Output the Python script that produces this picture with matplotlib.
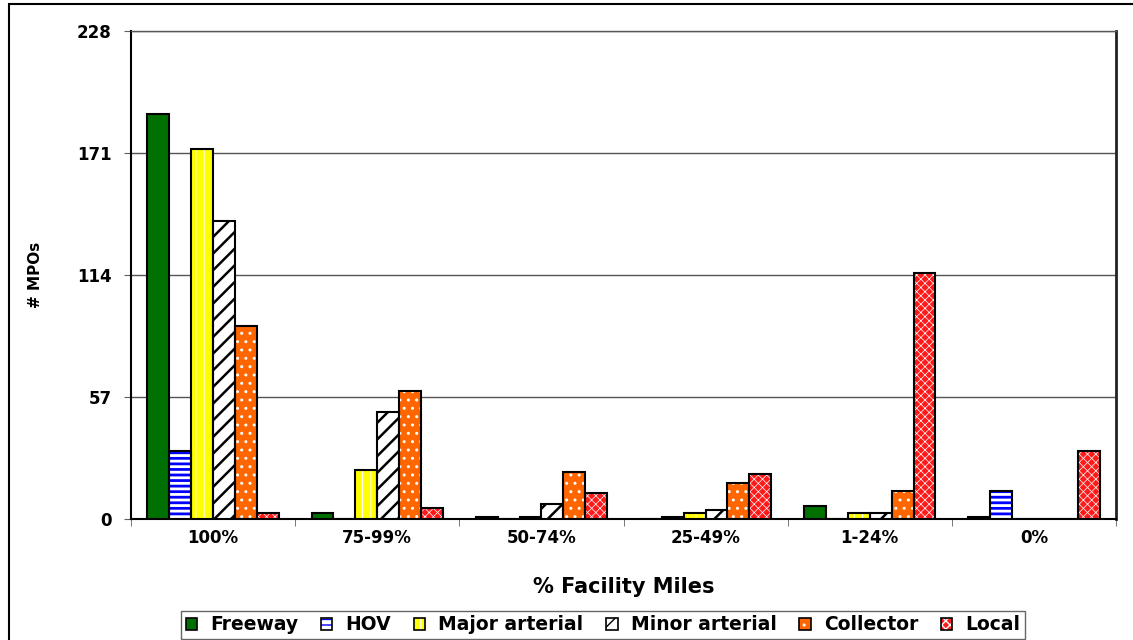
import matplotlib
matplotlib.use("Agg")
import matplotlib.pyplot as plt
import matplotlib.patches as mpatches
import numpy as np

# Share of facility miles covered, by facility type
categories = ['100%', '75-99%', '50-74%', '25-49%', '1-24%', '0%']
freeway = [189, 3, 1, 0, 6, 1]
hov = [32, 0, 0, 1, 0, 13]
major_arterial = [173, 23, 1, 3, 3, 0]
minor_arterial = [139, 50, 7, 4, 3, 0]
collector = [90, 60, 22, 17, 13, 0]
local = [3, 5, 12, 21, 115, 32]
series_names = ['Freeway', 'HOV', 'Major arterial', 'Minor arterial', 'Collector', 'Local']
yticks = [0, 57, 114, 171, 228]

# (face, hatch colour, hatch, hatch linewidth)
styles = [
    ('#007000', '#007000', '', 1.0),
    ('white', '#0000FF', '---', 2.0),
    ('#FFFF00', 'white', '||', 0.7),
    ('white', 'black', '//', 1.8),
    ('#FF6600', 'white', '..', 1.0),
    ('#FF1A1A', 'white', 'xxxx', 0.5),
]

plt.rcParams['font.family'] = 'DejaVu Sans'
plt.rcParams['font.weight'] = 'bold'

fig = plt.figure(figsize=(11.33, 6.4), dpi=100)
ax = fig.add_axes([131 / 1133, 1 - 519 / 640, 985 / 1133, 488 / 640])

x = np.arange(len(categories))
w = 1 / 7.5
data = [freeway, hov, major_arterial, minor_arterial, collector, local]

handles = []
for i, (vals, (fc, hc, hatch, hlw)) in enumerate(zip(data, styles)):
    pos = x + (i - 2.5) * w
    with plt.rc_context({'hatch.linewidth': hlw}):
        fill = ax.bar(pos, vals, w, color=fc, edgecolor=hc, hatch=hatch,
                      linewidth=0, zorder=3)
        for p in fill:
            if hasattr(p, 'set_hatch_linewidth'):
                p.set_hatch_linewidth(hlw)
        ax.bar(pos, vals, w, fill=False, edgecolor='black', linewidth=1.5,
               zorder=4)
        h1 = mpatches.Patch(facecolor=fc, edgecolor=hc, hatch=hatch, linewidth=0)
        if hasattr(h1, 'set_hatch_linewidth'):
            h1.set_hatch_linewidth(hlw)
    h2 = mpatches.Patch(fill=False, edgecolor='black', linewidth=1.2)
    handles.append((h1, h2))

ax.set_xlim(-0.5, 5.5)
ax.set_ylim(0, 228)
ax.set_yticks(yticks)
ax.set_yticklabels([str(t) for t in yticks], fontsize=12, fontweight='bold')
ax.set_xticks(x)
ax.set_xticklabels(categories, fontsize=12, fontweight='bold')
ax.set_xticks(np.arange(-0.5, 6, 1), minor=True)
ax.tick_params(axis='x', which='major', length=0, pad=7)
ax.tick_params(axis='x', which='minor', length=5, color='#606060', direction='out')
ax.tick_params(axis='y', length=5, color='#606060', pad=9)

ax.yaxis.grid(True, color='#555555', linewidth=1, zorder=0)
ax.set_axisbelow(True)
for side in ['left', 'bottom']:
    ax.spines[side].set_color('black')
    ax.spines[side].set_linewidth(1.5)
ax.spines['right'].set_color('#222222')
ax.spines['right'].set_linewidth(2)
ax.spines['top'].set_color('#555555')
ax.spines['top'].set_linewidth(1)

ax.set_xlabel('% Facility Miles', fontsize=15, fontweight='bold', labelpad=22)
ax.set_ylabel('# MPOs', fontsize=11, fontweight='bold')
ax.yaxis.set_label_coords((43 - 131) / 985, 0.5)

leg = fig.legend(handles, series_names, loc='lower center', ncol=6,
                 bbox_to_anchor=(603 / 1133, 1 / 640), fontsize=13.5,
                 handlelength=0.6, handleheight=0.6, handletextpad=0.7,
                 columnspacing=1.22, borderpad=0.25, fancybox=False,
                 frameon=True, borderaxespad=0)
leg.get_frame().set_edgecolor('#404040')
leg.get_frame().set_linewidth(1)
for t in leg.get_texts():
    t.set_fontweight('bold')

# outer chart border
fig.patches.append(mpatches.Rectangle((9 / 1133, -0.1), 1.2, 1.1 - 4 / 640,
                                      transform=fig.transFigure, fill=False,
                                      edgecolor='black', linewidth=1.5))

fig.savefig('out.png', dpi=100)
